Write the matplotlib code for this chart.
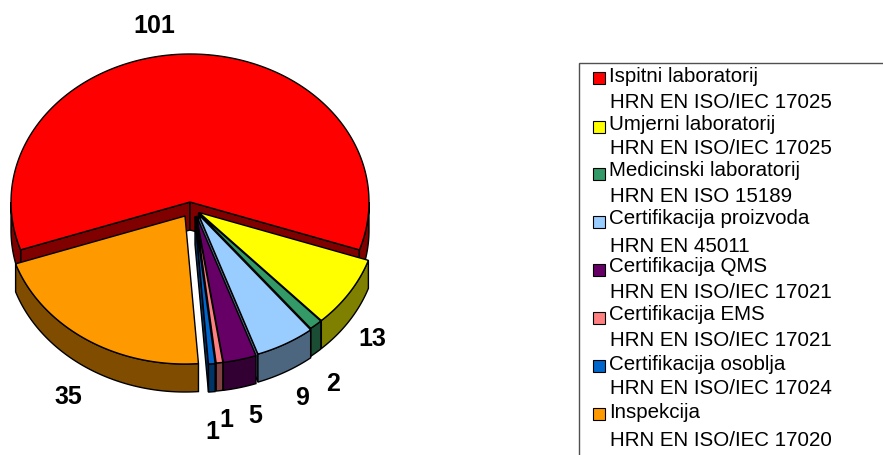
import numpy as np
import matplotlib
matplotlib.use('Agg')
import matplotlib.pyplot as plt
from matplotlib.patches import Polygon, Rectangle

plt.rcParams['font.family'] = ['Liberation Sans', 'DejaVu Sans']

values = [101, 13, 2, 9, 5, 1, 1, 35]
names = ['Ispitni laboratorij', 'Umjerni laboratorij', 'Medicinski laboratorij',
         'Certifikacija proizvoda', 'Certifikacija QMS', 'Certifikacija EMS',
         'Certifikacija osoblja', 'Inspekcija']
norms = ['HRN EN ISO/IEC 17025', 'HRN EN ISO/IEC 17025', 'HRN EN ISO 15189',
         'HRN EN 45011', 'HRN EN ISO/IEC 17021', 'HRN EN ISO/IEC 17021',
         'HRN EN ISO/IEC 17024', 'HRN EN ISO/IEC 17020']
colors = ['#FF0000', '#FFFF00', '#339966', '#99CCFF', '#660066', '#FF8080', '#0066CC', '#FF9900']
sides = ['#800000', '#808000', '#1A4D33', '#4D6680', '#330033', '#804040', '#003366', '#804D00']

# exploded slice centres, pixels
centres = [(190, 202), (199, 212.5), (198.5, 213), (198.5, 214.5),
           (196.5, 216), (196, 216), (195, 216.5), (185, 216)]
label_pos = [(154, 26), (372, 339), (333, 384), (302, 398),
             (255, 416), (226, 420), (212, 432), (68, 397)]
legend_text_y = [(77, 103), (125, 149), (171, 196), (219, 246),
                 (267, 293), (315, 341), (364, 389), (412, 441)]
legend_box_y = [78, 127, 174, 222, 270, 318, 366, 414]

A = 179     # ellipse half width
B = 148     # ellipse half height
DEPTH = 28  # pie thickness


def rim(c, ang):
    """Point(s) on the slice rim, ang in degrees clockwise from up."""
    a = np.radians(ang)
    return np.column_stack([c[0] + A*np.sin(a), c[1] - B*np.cos(a)])


def draw_slice(ax, c, start, end, color, side):
    lw = 1.0
    down = np.array([0, DEPTH])

    # cut faces which look towards the viewer
    for ang, normal in ((start, start - 90), (end, end + 90)):
        if np.cos(np.radians(normal)) < 0:
            p = rim(c, [ang])[0]
            ax.add_patch(Polygon([c, p, p + down, np.array(c) + down],
                                 fc=side, ec='black', lw=lw))

    # outer wall, only the front half of the rim
    for lo, hi in ((90, 270), (-270, -90)):
        a0, a1 = max(start, lo), min(end, hi)
        if a1 > a0:
            arc = rim(c, np.linspace(a0, a1, 80))
            ax.add_patch(Polygon(np.vstack([arc, arc[::-1] + down]),
                                 fc=side, ec='black', lw=lw))

    arc = rim(c, np.linspace(start, end, 200))
    ax.add_patch(Polygon(np.vstack([[c], arc]), fc=color, ec='black', lw=lw))


def main():
    fig = plt.figure(figsize=(8.83, 4.55), dpi=100)
    ax = fig.add_axes([0, 0, 1, 1])
    ax.set_xlim(0, 883)
    ax.set_ylim(455, 0)
    ax.axis('off')

    # first slice is centred on the top of the pie
    sweep = np.array(values) / sum(values) * 360
    edges = np.cumsum(np.r_[-sweep[0] / 2, sweep])
    for i in range(len(values)):
        draw_slice(ax, centres[i], edges[i], edges[i + 1], colors[i], sides[i])

    for v, (x, y) in zip(values, label_pos):
        ax.text(x, y, str(v), fontsize=18, fontweight='bold', ha='center', va='center')

    ax.add_patch(Rectangle((578.5, 62.5), 320, 410, fc='white', ec='#505050', lw=1))
    for i in range(len(names)):
        ax.add_patch(Rectangle((592.5, legend_box_y[i] - 6), 12, 12, fc=colors[i], ec='black', lw=0.8))
        y1, y2 = legend_text_y[i]
        ax.text(609, y1, names[i], fontsize=14.8, ha='left', va='center')
        ax.text(610, y2, norms[i], fontsize=14.8, ha='left', va='center')

    fig.savefig('out.png', dpi=100)


if __name__ == "__main__":

    main()
